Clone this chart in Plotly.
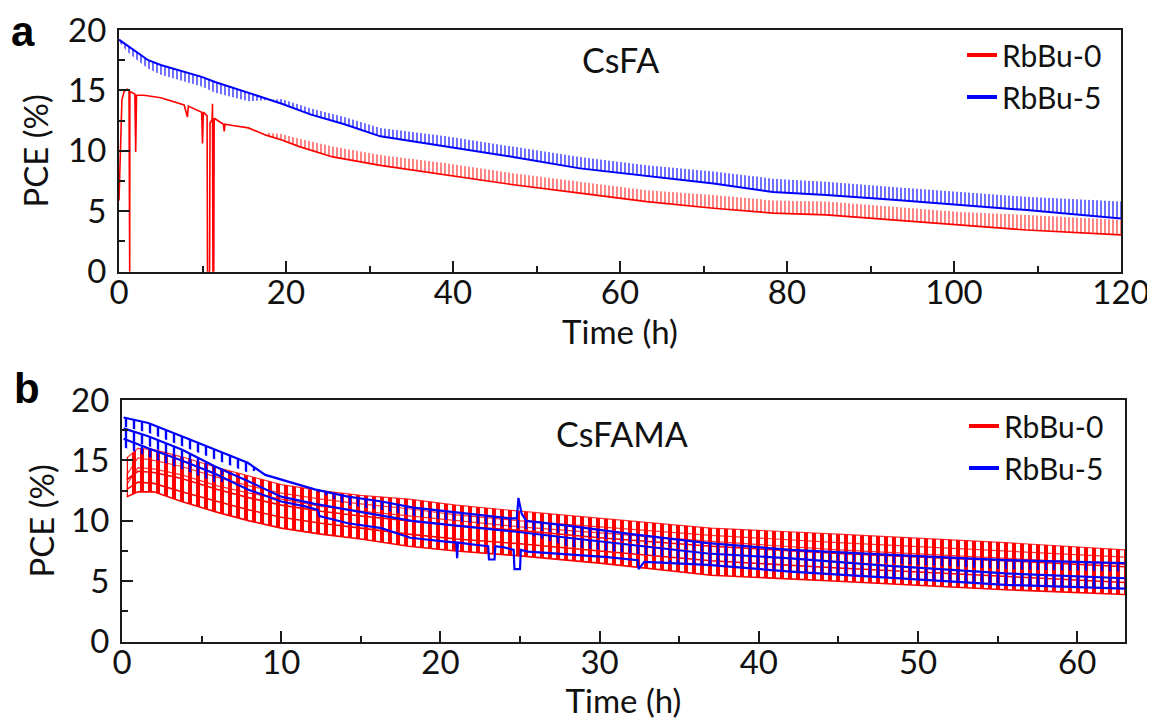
import plotly.graph_objects as go

# ---------------- Panel a (CsFA) ----------------
# RbBu-5 : main trace and tip of the periodic spikes
t_a5 = [0, 1, 2, 3.5, 5, 7.5, 10, 11.5, 15.5, 19.5, 23, 27, 31.3, 39.2, 47.2, 55.2,
        63.2, 71.2, 78.3, 84.7, 92.7, 100.7, 108.7, 120]
pce_a5 = [19.2, 18.7, 18.2, 17.5, 17.1, 16.6, 16.1, 15.7, 14.8, 13.9, 13.0, 12.2, 11.2,
          10.35, 9.5, 8.55, 7.9, 7.3, 6.6, 6.35, 5.95, 5.5, 5.1, 4.4]
spk_a5 = [19.0, 18.2, 17.6, 16.8, 16.3, 15.8, 15.3, 14.8, 14.1, 14.3, 13.5, 12.8, 11.9,
          11.2, 10.35, 9.5, 8.8, 8.3, 7.7, 7.45, 7.0, 6.6, 6.2, 5.8]

# RbBu-0 : main trace (with the interruptions) and spike band
t_a0 = [0, 0.15, 0.35, 0.6, 0.95, 1.2, 1.22, 1.28, 1.3, 1.9, 2.0, 2.1, 3.0, 5.0, 7.8,
        8.2, 8.3, 9.9, 10.0, 10.1, 10.55, 10.6, 10.85, 10.9, 11.15, 11.2, 11.25, 11.35,
        11.4, 12.5, 12.6, 12.7, 13.6, 15.5, 17.6, 19.5, 21.6, 25.6, 31.3, 39.2, 47.2,
        55.2, 63.2, 71.2, 78.3, 84.7, 92.7, 100.7, 108.7, 120]
pce_a0 = [5.9, 9.5, 14.2, 14.9, 15.1, 15.0, 0, 0, 14.9, 14.7, 9.9, 14.6, 14.6, 14.4, 13.8,
          12.8, 13.7, 13.2, 10.6, 13.2, 12.9, 0, 0, 12.3, 12.6, 13.9, 0, 0,
          12.7, 12.2, 11.6, 12.2, 12.1, 11.9, 11.3, 10.9, 10.35, 9.5, 8.8, 8.0, 7.2,
          6.5, 5.8, 5.25, 4.85, 4.7, 4.3, 3.85, 3.45, 3.05]
t_a0s = [17.6, 19.5, 21.6, 25.6, 31.3, 39.2, 47.2, 55.2, 63.2, 71.2, 78.3, 84.7, 92.7,
         100.7, 108.7, 120]
low_a0s = [11.3, 10.9, 10.35, 9.5, 8.8, 8.0, 7.2, 6.5, 5.8, 5.25, 4.85, 4.7, 4.3, 3.85,
           3.45, 3.05]
spk_a0s = [11.5, 11.4, 11.0, 10.35, 9.65, 8.97, 8.15, 7.45, 6.75, 6.35, 5.9, 5.8, 5.4,
           4.95, 4.7, 4.3]

# ---------------- Panel b (CsFAMA) ----------------
# RbBu-0 devices: upper and lower edge of the square-wave band
t_rb = [0.3, 1, 2, 3.75, 6, 8, 10, 12.5, 15, 18, 21, 25, 30, 37, 45, 55.5, 63]
r1_hi = [15.2, 16.0, 15.9, 15.3, 14.4, 13.7, 13.0, 12.5, 12.1, 11.8, 11.3, 10.8, 10.2,
         9.4, 8.9, 8.2, 7.6]
r1_lo = [13.4, 14.1, 14.0, 13.5, 12.6, 11.9, 11.3, 10.8, 10.4, 10.0, 9.6, 9.2, 8.6,
         7.9, 7.3, 6.7, 6.2]
r2_hi = [13.0, 14.4, 14.3, 13.8, 12.9, 12.3, 11.8, 11.2, 10.8, 10.4, 10.0, 9.5, 9.0,
         8.3, 7.6, 6.9, 6.4]
r2_lo = [12.0, 12.4, 12.4, 11.6, 10.7, 10.0, 9.4, 8.9, 8.5, 7.9, 7.5, 7.1, 6.5, 5.5,
         5.0, 4.3, 3.9]
r3_hi = [13.8, 15.2, 15.0, 14.5, 13.6, 12.9, 12.3, 11.8, 11.4, 11.0, 10.5, 10.0, 9.5,
         8.8, 8.2, 7.5, 7.0]
r3_lo = [12.6, 13.2, 13.1, 12.4, 11.6, 10.9, 10.3, 9.8, 9.4, 8.9, 8.5, 8.1, 7.5, 6.7,
         6.1, 5.4, 4.9]

# RbBu-5 devices
t_b1 = [0.1, 1.65, 3.75, 5.85, 7.9, 9.0, 10.0, 12.1, 14.2, 16.3, 18.3, 21, 24.4, 24.8,
        24.9, 25.1, 25.4, 28, 32, 36.8, 42, 48, 55.5, 63]
pce_b1 = [18.55, 18.1, 17.0, 15.9, 14.8, 13.8, 13.4, 12.6, 12.0, 11.6, 11.1, 10.7, 10.2,
          10.2, 11.9, 10.6, 10.0, 9.6, 8.9, 8.15, 7.6, 7.2, 6.75, 6.5]
t_b1c = [0.1, 1.65, 3.75, 5.85, 7.9, 8.5, 12.0, 14.2, 16.3, 18.3, 21, 24.4, 25.4, 28, 32,
         36.8, 42, 48, 55.5, 63]
top_b1c = [18.55, 18.1, 17.0, 15.9, 14.8, 14.2, 12.6, 12.0, 11.6, 11.1, 10.7, 10.2, 10.0,
           9.6, 8.9, 8.15, 7.6, 7.2, 6.75, 6.5]
dip_b1c = [17.8, 17.3, 16.2, 15.1, 14.0, 14.2, 12.6, 11.3, 10.9, 10.4, 10.0, 9.5, 9.3,
           8.9, 8.2, 7.4, 6.9, 6.5, 6.0, 5.8]

t_b2 = [0.1, 1.65, 3.75, 5.85, 7.9, 10.0, 12.1, 14.2, 16.3, 18.2, 21, 24.8, 28, 32, 36.8,
        42, 48, 55.5, 63]
pce_b2 = [17.65, 17.0, 15.9, 14.5, 13.3, 12.0, 11.4, 10.9, 10.4, 10.0, 9.6, 9.1, 8.6, 8.0,
          7.3, 6.9, 6.3, 5.65, 5.25]
t_b2c = [0.1, 1.65, 3.75, 5.85, 7.0, 25.0, 28, 32, 36.8, 42, 48, 55.5, 63]
top_b2c = [17.65, 17.0, 15.9, 14.5, 13.8, 9.05, 8.6, 8.0, 7.3, 6.9, 6.3, 5.65, 5.25]
dip_b2c = [16.8, 16.2, 15.1, 13.8, 13.8, 9.05, 7.9, 7.3, 6.6, 6.1, 5.5, 4.9, 4.5]

t_b3 = [0.1, 1.65, 3.75, 5.85, 7.9, 10.0, 11.5, 12.3, 12.4, 14.2, 16.3, 18.1, 20.2, 21.0,
        21.05, 21.1, 22.3, 23.0, 23.05, 23.4, 23.45, 24.0, 24.6, 24.65, 25.0, 25.05,
        25.5, 28.6, 30.5, 32.4, 32.45, 32.8, 36.8, 42, 48, 55.5, 63]
pce_b3 = [16.8, 16.0, 15.0, 13.9, 12.6, 11.6, 11.2, 10.9, 10.4, 9.8, 9.4, 8.6, 8.3, 8.2,
          6.9, 8.2, 8.0, 7.9, 6.8, 6.8, 7.9, 7.8, 7.6, 6.0, 6.0, 7.6, 7.45, 7.2, 7.0,
          6.75, 6.0, 6.6, 6.35, 5.8, 5.3, 4.7, 4.4]
t_b3c = [0.1, 1.65, 3.75, 5.85, 7.0, 33, 36.8, 42, 48, 55.5, 63]
top_b3c = [16.8, 16.0, 15.0, 13.9, 13.3, 6.6, 6.35, 5.8, 5.3, 4.7, 4.4]
oth_b3c = [16.1, 15.3, 14.3, 13.2, 13.3, 6.6, 7.0, 6.5, 6.0, 5.4, 5.1]

x_ticks_a = [0, 20, 40, 60, 80, 100, 120]
x_ticks_b = [0, 10, 20, 30, 40, 50, 60]
y_ticks = [0, 5, 10, 15, 20]

RED = "#ff0000"
BLUE = "#0000ff"
FONT = "Lato"

# the page body has an 8 px margin: the figure is laid out in window pixels
OFF = 8
W, H = 1155 - OFF, 720 - OFF


def px(X):
    return (X - OFF) / W


def py(Y):
    return 1 - (Y - OFF) / H


fig = go.Figure()


def band(x, y_edge, x2, y_edge2, color, xa, ya, size, sol, op):
    fig.add_trace(go.Scatter(x=x, y=y_edge, mode="lines", line=dict(width=0, color=color),
                             showlegend=False, hoverinfo="skip", xaxis=xa, yaxis=ya))
    fig.add_trace(go.Scatter(x=x2, y=y_edge2, mode="lines", line=dict(width=0, color=color),
                             fill="tonexty", fillcolor="rgba(0,0,0,0)",
                             fillpattern=dict(shape="|", size=size, solidity=sol,
                                              fgcolor=color, fgopacity=op,
                                              bgcolor="rgba(0,0,0,0)", fillmode="replace"),
                             showlegend=False, hoverinfo="skip", xaxis=xa, yaxis=ya))


def line(x, y, color, xa, ya, w, op=1.0):
    fig.add_trace(go.Scatter(x=x, y=y, mode="lines", line=dict(width=w, color=color),
                             opacity=op, showlegend=False, hoverinfo="skip",
                             xaxis=xa, yaxis=ya))


# panel a
band(t_a5, pce_a5, t_a5, spk_a5, BLUE, "x", "y", 4, 0.4, 0.7)
band(t_a0s, low_a0s, t_a0s, spk_a0s, RED, "x", "y", 4, 0.4, 0.6)
line(t_a5, pce_a5, BLUE, "x", "y", 2)
line(t_a0, pce_a0, RED, "x", "y", 1.6)

# panel b
for hi, lo in [(r1_hi, r1_lo), (r2_hi, r2_lo), (r3_hi, r3_lo)]:
    band(t_rb, hi, t_rb, lo, RED, "x2", "y2", 8, 0.5, 1.0)
    line(t_rb, hi, RED, "x2", "y2", 1.2, 0.8)
    line(t_rb, lo, RED, "x2", "y2", 1.6)
band(t_b1c, top_b1c, t_b1c, dip_b1c, BLUE, "x2", "y2", 8, 0.3, 1.0)
band(t_b2c, top_b2c, t_b2c, dip_b2c, BLUE, "x2", "y2", 8, 0.3, 1.0)
band(t_b3c, top_b3c, t_b3c, oth_b3c, BLUE, "x2", "y2", 8, 0.3, 1.0)
line(t_b1, pce_b1, BLUE, "x2", "y2", 2.2)
line(t_b2, pce_b2, BLUE, "x2", "y2", 2.2)
line(t_b3, pce_b3, BLUE, "x2", "y2", 2.2)

# legend entries
for name, col in [("RbBu-0", RED), ("RbBu-5", BLUE)]:
    fig.add_trace(go.Scatter(x=[None], y=[None], mode="lines", name=name,
                             line=dict(color=col, width=4), xaxis="x", yaxis="y",
                             legend="legend"))
for name, col in [("RbBu-0", RED), ("RbBu-5", BLUE)]:
    fig.add_trace(go.Scatter(x=[None], y=[None], mode="lines", name=name,
                             line=dict(color=col, width=4), xaxis="x2", yaxis="y2",
                             legend="legend2"))

AX = "#1a1a1a"
common = dict(showline=True, linewidth=2, linecolor=AX, mirror=True, showgrid=False,
              zeroline=False, ticks="inside", ticklen=11, tickwidth=2, tickcolor=AX,
              automargin=False,
              tickfont=dict(family=FONT, size=33, color="#111"))
xcommon = dict(ticklabelstandoff=-9, **common)
ycommon = dict(ticklabelstandoff=4, **common)


def minor(d):
    return dict(tick0=0, dtick=d, ticks="inside", ticklen=6, tickwidth=2, tickcolor=AX)


fig.update_layout(
    width=W, height=H, margin=dict(l=0, r=0, t=0, b=0, autoexpand=False),
    paper_bgcolor="white", plot_bgcolor="white",
    font=dict(family=FONT, color="#111"),
    xaxis=dict(domain=[px(119), px(1121)], anchor="y", range=[0, 120], tickvals=x_ticks_a,
               minor=minor(10),
               title=dict(text="Time (h)", font=dict(family=FONT, size=33), standoff=2),
               **xcommon),
    yaxis=dict(domain=[py(271.7), py(30)], anchor="x", range=[0, 20],
               tickvals=y_ticks, minor=minor(2.5),
               title=dict(text="PCE (%)", font=dict(family=FONT, size=33), standoff=10),
               **ycommon),
    xaxis2=dict(domain=[px(122), px(1125)], anchor="y2", range=[0, 63],
                tickvals=x_ticks_b, minor=minor(5),
                title=dict(text="Time (h)", font=dict(family=FONT, size=33), standoff=8),
                **xcommon),
    yaxis2=dict(domain=[py(641.7), py(400)], anchor="x2", range=[0, 20],
                tickvals=y_ticks, minor=minor(2.5),
                title=dict(text="PCE (%)", font=dict(family=FONT, size=33), standoff=7),
                **ycommon),
    legend=dict(x=px(962), y=py(29), xanchor="left", yanchor="top",
                bgcolor="rgba(0,0,0,0)", font=dict(family=FONT, size=30, color="#111"),
                tracegroupgap=0, traceorder="normal"),
    legend2=dict(x=px(964), y=py(400), xanchor="left", yanchor="top",
                 bgcolor="rgba(0,0,0,0)", font=dict(family=FONT, size=30, color="#111"),
                 tracegroupgap=0, traceorder="normal"),
    showlegend=True,
    annotations=[
        dict(text="CsFA", x=px(620), y=py(60), xref="paper", yref="paper",
             xanchor="center", yanchor="middle",
             showarrow=False, font=dict(family=FONT, size=34, color="#111")),
        dict(text="CsFAMA", x=px(622), y=py(433), xref="paper", yref="paper",
             xanchor="center", yanchor="middle",
             showarrow=False, font=dict(family=FONT, size=34, color="#111")),
        dict(text="<b>a</b>", x=px(23), y=py(31), xref="paper", yref="paper",
             xanchor="center", yanchor="middle",
             showarrow=False, font=dict(family="Liberation Sans", size=42, color="#000")),
        dict(text="<b>b</b>", x=px(27), y=py(388), xref="paper", yref="paper",
             xanchor="center", yanchor="middle",
             showarrow=False, font=dict(family="Liberation Sans", size=42, color="#000")),
    ],
)

fig.write_html("out.html")
